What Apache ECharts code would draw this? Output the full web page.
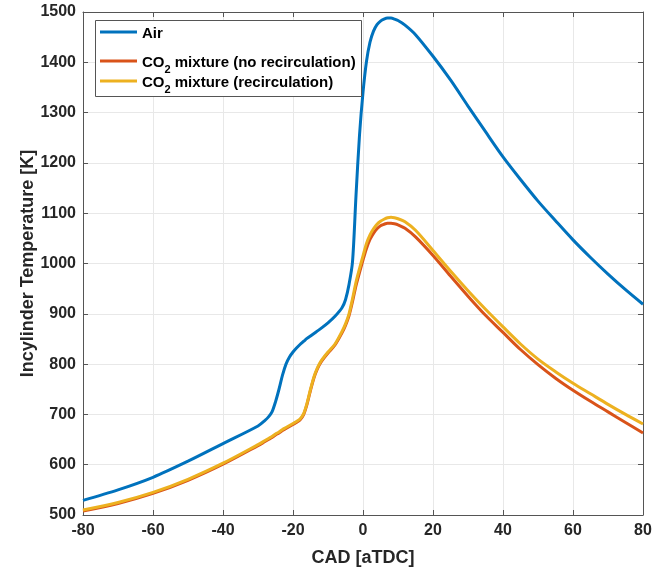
<!DOCTYPE html>
<html>
<head>
<meta charset="utf-8">
<script src="https://cdn.jsdelivr.net/npm/echarts@6/dist/echarts.min.js"></script>
<style>
html,body{margin:0;padding:0;background:#fff;}
#chart{width:666px;height:572px;}
</style>
</head>
<body>
<div id="chart"></div>
<script>
var cad = [-80,-70,-60,-50,-40,-30,-28,-27,-26,-25,-24,-23,-22,-21,-20,-19,-18,-17,-16,-15,-14,-13,-12,-10,-8,-6,-5,-4,-3,-2,-1,0,1,2,3,4,5,6,7,8,9,10,12,15,20,25,30,35,40,45,50,55,60,65,70,75,80];
var airTemp = [529,550,575,607,642,677,688,695,705,725,750,778,800,814,824,832,839,845,851,856,861,866,871,882,895,912,928,958,1003,1135,1255,1340,1402,1440,1462,1475,1482,1486,1488,1488,1486,1483,1474,1455,1412,1365,1313,1262,1212,1167,1124,1085,1047,1012,979,948,919];
var co2NoRecirc = [508,523,543,569,601,638,646,650,654,659,663,668,672,676,680,684,689,699,720,748,773,791,804,822,838,862,877,896,924,956,982,1007,1030,1048,1060,1069,1075,1078,1080,1080,1079,1077,1070,1053,1016,975,935,897,863,829,799,772,748,726,705,684,663];
var co2Recirc = [510,525,545,571,603,640,648,652,656,661,665,670,674,678,682,686,691,701,722,750,775,793,806,824,840,865,880,900,930,963,990,1015,1040,1057,1069,1078,1084,1088,1091,1092,1091,1089,1083,1066,1026,985,946,909,874,840,810,785,762,741,720,700,681];
var seriesNames = ['Air', 'CO2 mixture (no recirculation)', 'CO2 mixture (recirculation)'];
var seriesColors = ['#0072BD', '#D95319', '#EDB120'];
var xTicks = {min: -80, max: 80, interval: 20};
var yTicks = {min: 500, max: 1500, interval: 100};

function pairs(vals) { return cad.map(function (x, i) { return [x, vals[i]]; }); }

var font = 'Liberation Sans, Arial, Helvetica, sans-serif';
var axisColor = '#555';
var chart = echarts.init(document.getElementById('chart'));
function mkSeries(name, vals, color) {
  return {
    name: name, type: 'line', data: pairs(vals), showSymbol: false,
    smooth: 0.3,
    lineStyle: {color: color, width: 3}, itemStyle: {color: color}
  };
}
var legendText = {
  fontFamily: font, fontWeight: 'bold', fontSize: 15, color: '#000',
  rich: {
    n: {fontFamily: font, fontWeight: 'bold', fontSize: 15, color: '#000', lineHeight: 18, verticalAlign: 'bottom'},
    s: {fontFamily: font, fontWeight: 'bold', fontSize: 11, color: '#000', lineHeight: 18, verticalAlign: 'bottom', padding: [0, 0, -5, 0]}
  }
};
function legendFmt(n) {
  if (n.indexOf('CO2') === 0) return '{n|CO}{s|2}{n|' + n.slice(3) + '}';
  return '{n|' + n + '}';
}
var rowCenters = [32, 61, 81];
var legends = seriesNames.map(function (n, i) {
  return {
    orient: 'vertical', left: 100, top: rowCenters[i] - 6, padding: 0, z: 10,
    icon: 'rect', itemWidth: 37, itemHeight: 3, itemGap: 3,
    data: [n], formatter: legendFmt, textStyle: legendText
  };
});
chart.setOption({
  animation: false,
  backgroundColor: '#fff',
  grid: {left: 83, right: 23, top: 12, bottom: 56, containLabel: false},
  graphic: [{
    type: 'rect', left: 95, top: 20, z: 5,
    shape: {width: 266, height: 76},
    style: {fill: '#fff', stroke: '#555', lineWidth: 1}
  }],
  legend: legends,
  xAxis: [{
    type: 'value', min: xTicks.min, max: xTicks.max, interval: xTicks.interval,
    name: 'CAD [aTDC]', nameLocation: 'middle', nameGap: 34,
    nameTextStyle: {fontFamily: font, fontWeight: 'bold', fontSize: 18, color: '#262626'},
    axisLine: {show: true, onZero: false, lineStyle: {color: axisColor, width: 1}},
    axisTick: {show: true, inside: true, length: 5, lineStyle: {color: axisColor}},
    axisLabel: {fontFamily: font, fontWeight: 'bold', fontSize: 16, color: '#262626', margin: 8},
    splitLine: {show: true, lineStyle: {color: '#e8e8e8', width: 1}}
  }, {
    type: 'value', position: 'top', min: xTicks.min, max: xTicks.max, interval: xTicks.interval,
    axisLine: {show: true, onZero: false, lineStyle: {color: axisColor, width: 1}},
    axisTick: {show: true, inside: true, length: 5, lineStyle: {color: axisColor}},
    axisLabel: {show: false}, splitLine: {show: false}
  }],
  yAxis: [{
    type: 'value', min: yTicks.min, max: yTicks.max, interval: yTicks.interval,
    name: 'Incylinder Temperature [K]', nameLocation: 'middle', nameGap: 46, nameMoveOverlap: false,
    nameTextStyle: {fontFamily: font, fontWeight: 'bold', fontSize: 18, color: '#262626'},
    axisLine: {show: true, onZero: false, lineStyle: {color: axisColor, width: 1}},
    axisTick: {show: true, inside: true, length: 5, lineStyle: {color: axisColor}},
    axisLabel: {fontFamily: font, fontWeight: 'bold', fontSize: 16, color: '#262626', margin: 7,
      formatter: function (v) { return String(v); }},
    splitLine: {show: true, lineStyle: {color: '#e8e8e8', width: 1}}
  }, {
    type: 'value', position: 'right', min: yTicks.min, max: yTicks.max, interval: yTicks.interval,
    axisLine: {show: true, onZero: false, lineStyle: {color: axisColor, width: 1}},
    axisTick: {show: true, inside: true, length: 5, lineStyle: {color: axisColor}},
    axisLabel: {show: false}, splitLine: {show: false}
  }],
  series: [
    mkSeries(seriesNames[0], airTemp, seriesColors[0]),
    mkSeries(seriesNames[1], co2NoRecirc, seriesColors[1]),
    mkSeries(seriesNames[2], co2Recirc, seriesColors[2])
  ]
});
</script>
</body>
</html>
